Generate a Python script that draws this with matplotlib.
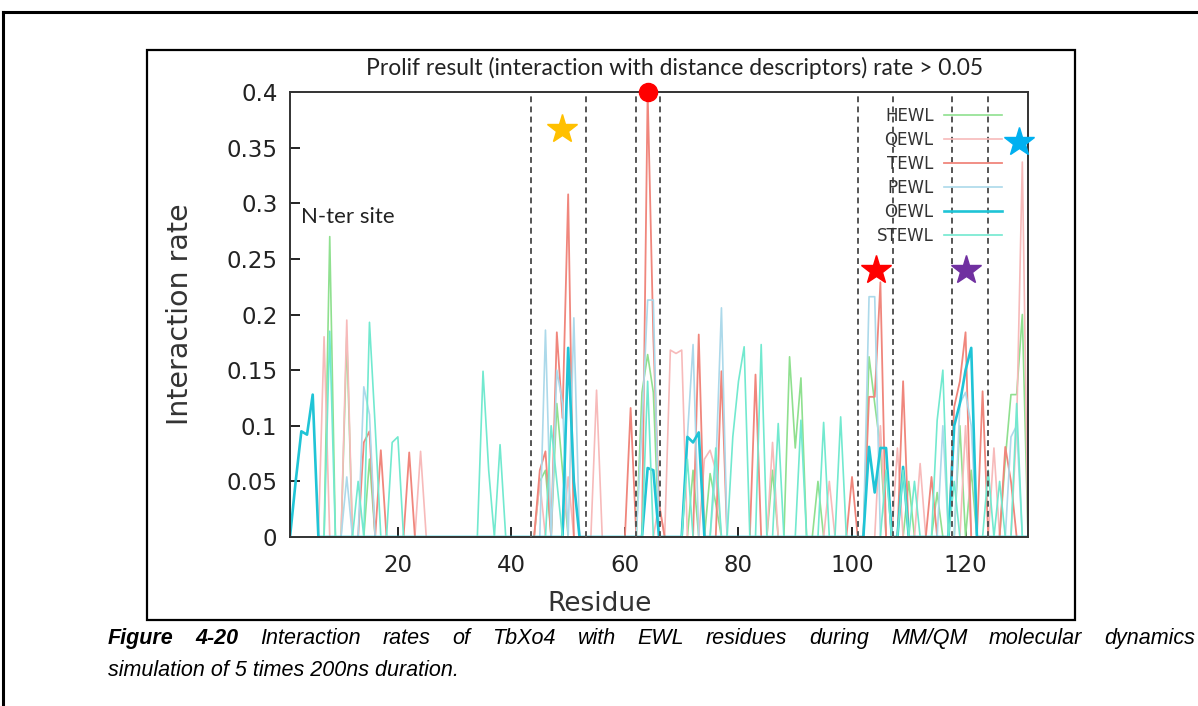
import numpy as np
import matplotlib
matplotlib.use("Agg")
import matplotlib.pyplot as plt
from matplotlib.lines import Line2D
from matplotlib.patches import Rectangle

# ---------------- data (residue, rate); all other residues are 0 ----------------
residues = np.arange(1, 132)

hewl_res = [8, 11, 15, 45, 46, 48, 49, 63, 64, 65, 72, 75, 76, 86, 89, 90, 91, 94, 103, 104, 105, 110, 115, 119, 121, 127, 128, 129, 130]
hewl_val = [0.27, 0.18, 0.07, 0.05, 0.06, 0.12, 0.06, 0.13, 0.164, 0.13, 0.06, 0.057, 0.03, 0.06, 0.162, 0.08, 0.143, 0.05, 0.162, 0.12, 0.08, 0.05, 0.04, 0.10, 0.06, 0.07, 0.128, 0.128, 0.20]

qewl_res = [7, 11, 24, 45, 50, 55, 66, 68, 69, 70, 74, 75, 76, 86, 96, 105, 108, 112, 120, 125, 129, 130]
qewl_val = [0.18, 0.195, 0.077, 0.05, 0.054, 0.132, 0.03, 0.168, 0.165, 0.168, 0.07, 0.078, 0.06, 0.085, 0.05, 0.10, 0.08, 0.066, 0.10, 0.08, 0.10, 0.337]

tewl_res = [14, 15, 17, 22, 45, 46, 48, 49, 50, 61, 64, 65, 66, 73, 77, 83, 100, 103, 104, 105, 109, 114, 118, 119, 120, 123, 127, 128]
tewl_val = [0.085, 0.095, 0.078, 0.076, 0.06, 0.077, 0.184, 0.107, 0.308, 0.116, 0.40, 0.18, 0.03, 0.182, 0.149, 0.146, 0.054, 0.126, 0.126, 0.229, 0.14, 0.054, 0.117, 0.14, 0.184, 0.131, 0.081, 0.05]

pewl_res = [11, 14, 15, 46, 48, 49, 51, 63, 64, 65, 71, 72, 76, 77, 103, 104, 116, 119, 120, 121, 128, 129]
pewl_val = [0.054, 0.135, 0.11, 0.186, 0.15, 0.12, 0.197, 0.10, 0.213, 0.213, 0.09, 0.173, 0.06, 0.206, 0.216, 0.216, 0.10, 0.12, 0.13, 0.10, 0.09, 0.10]

oewl_res = [2, 3, 4, 5, 50, 51, 64, 65, 71, 72, 73, 103, 104, 105, 106, 109, 118, 119, 120, 121]
oewl_val = [0.05, 0.095, 0.092, 0.128, 0.17, 0.05, 0.062, 0.06, 0.09, 0.085, 0.094, 0.081, 0.04, 0.08, 0.08, 0.063, 0.10, 0.12, 0.15, 0.17]

stewl_res = [8, 13, 15, 16, 19, 20, 35, 36, 38, 47, 48, 64, 71, 76, 79, 80, 81, 84, 87, 91, 95, 98, 106, 109, 111, 115, 116, 118, 124, 126, 129]
stewl_val = [0.185, 0.05, 0.193, 0.10, 0.085, 0.09, 0.149, 0.06, 0.083, 0.10, 0.05, 0.14, 0.07, 0.08, 0.09, 0.14, 0.171, 0.173, 0.102, 0.105, 0.103, 0.108, 0.06, 0.06, 0.05, 0.105, 0.15, 0.05, 0.06, 0.05, 0.12]

series_names = ["HEWL", "QEWL", "TEWL", "PEWL", "OEWL", "STEWL"]
series_colors = ["#8fe08f", "#f7baba", "#f0867c", "#acd9ea", "#1fc4d6", "#72e9cf"]
series_widths = [1.2, 1.2, 1.3, 1.2, 1.9, 1.2]
series_data = [(hewl_res, hewl_val), (qewl_res, qewl_val), (tewl_res, tewl_val),
               (pewl_res, pewl_val), (oewl_res, oewl_val), (stewl_res, stewl_val)]

site_lines = [43.4, 53.1, 62.0, 66.1, 101.1, 107.2, 117.6, 123.9]

# highlighted sites: x, y, marker, colour, size
site_marks = [(48.9, 0.367, "*", "#ffc000", 22),
              (64.0, 0.400, "o", "#ff0000", 13),
              (104.2, 0.240, "*", "#ff0000", 22),
              (120.0, 0.240, "*", "#7030a0", 22),
              (129.5, 0.355, "*", "#00b0f0", 22)]

W, H = 1198, 706


def fx(px):
    return px / W


def fy(py):
    return 1 - py / H


fig = plt.figure(figsize=(W / 100, H / 100), dpi=100)

# page frame + picture border
fig.add_artist(Line2D([fx(3), 1.0], [fy(12), fy(12)], color="black", lw=2.2, transform=fig.transFigure))
fig.add_artist(Line2D([fx(3), fx(3)], [fy(12), 0.0], color="black", lw=2.2, transform=fig.transFigure))
fig.add_artist(Rectangle((fx(147), fy(620)), fx(1075) - fx(147), fy(50) - fy(620),
                         fill=False, ec="black", lw=1.6, transform=fig.transFigure))

ax = fig.add_axes([fx(290), fy(537), fx(1028) - fx(290), fy(92) - fy(537)])

for name, col, lw, (rr, vv) in zip(series_names, series_colors, series_widths, series_data):
    y = np.zeros(len(residues))
    y[np.array(rr) - 1] = vv
    ax.plot(residues, y, color=col, lw=lw, label=name)

for xv in site_lines:
    ax.axvline(xv, color="#555555", lw=1.4, ls=(0, (3, 2.2)), zorder=5)

for xs, ys, m, c, s in site_marks:
    ax.plot(xs, ys, marker=m, color=c, ms=s, mec=c, clip_on=False, zorder=6)

ax.set_xlim(1, 131)
ax.set_ylim(0, 0.4)
ax.set_xticks([20, 40, 60, 80, 100, 120])
ax.set_yticks(np.arange(0, 0.41, 0.05))
ax.set_yticklabels(["0", "0.05", "0.1", "0.15", "0.2", "0.25", "0.3", "0.35", "0.4"])
ax.tick_params(direction="in", length=7, width=1.4, labelsize=16.5, colors="#222222")
ax.tick_params(axis="y", pad=9)
ax.tick_params(axis="x", pad=12)
for sp in ax.spines.values():
    sp.set_linewidth(1.4)
    sp.set_color("#333333")

ax.set_xlabel("Residue", fontsize=19, color="#333333")
ax.xaxis.set_label_coords(0.42, -0.122)
ax.set_ylabel("Interaction rate", fontsize=20.5, color="#333333", labelpad=23)

leg = ax.legend(loc="upper right", bbox_to_anchor=(0.985, 1.0), frameon=False, markerfirst=False,
                fontsize=12, handlelength=3.5, handletextpad=0.6, labelspacing=0.36)
for t in leg.get_texts():
    t.set_color("#333333")

ax.text(3.0, 0.288, "N-ter site", fontsize=16, family="Lato", color="#222222", va="center")
fig.text(fx(675), fy(68), "Prolif result (interaction with distance descriptors) rate > 0.05",
         fontsize=16.5, family="Lato", color="#222222", ha="center", va="center")

# caption, first line justified
renderer = fig.canvas.get_renderer()
cap_font = dict(family="Liberation Sans", style="italic", fontsize=15.5, color="black")
line1 = [("Figure", "bold"), ("4-20", "bold")] + [(w, "normal") for w in
         "Interaction rates of TbXo4 with EWL residues during MM/QM molecular dynamics".split()]
widths = []
for w, wt in line1:
    t = fig.text(0, 0, w, fontweight=wt, **cap_font)
    widths.append(t.get_window_extent(renderer).width)
    t.remove()
x0, x1 = 108, 1195
gap = (x1 - x0 - sum(widths)) / (len(line1) - 1)
xp = x0
for (w, wt), wd in zip(line1, widths):
    fig.text(fx(xp), fy(644), w, fontweight=wt, va="baseline", **cap_font)
    xp += wd + gap
fig.text(fx(108), fy(676), "simulation of 5 times 200ns duration.", va="baseline", **cap_font)

fig.savefig("out.png", dpi=100)
